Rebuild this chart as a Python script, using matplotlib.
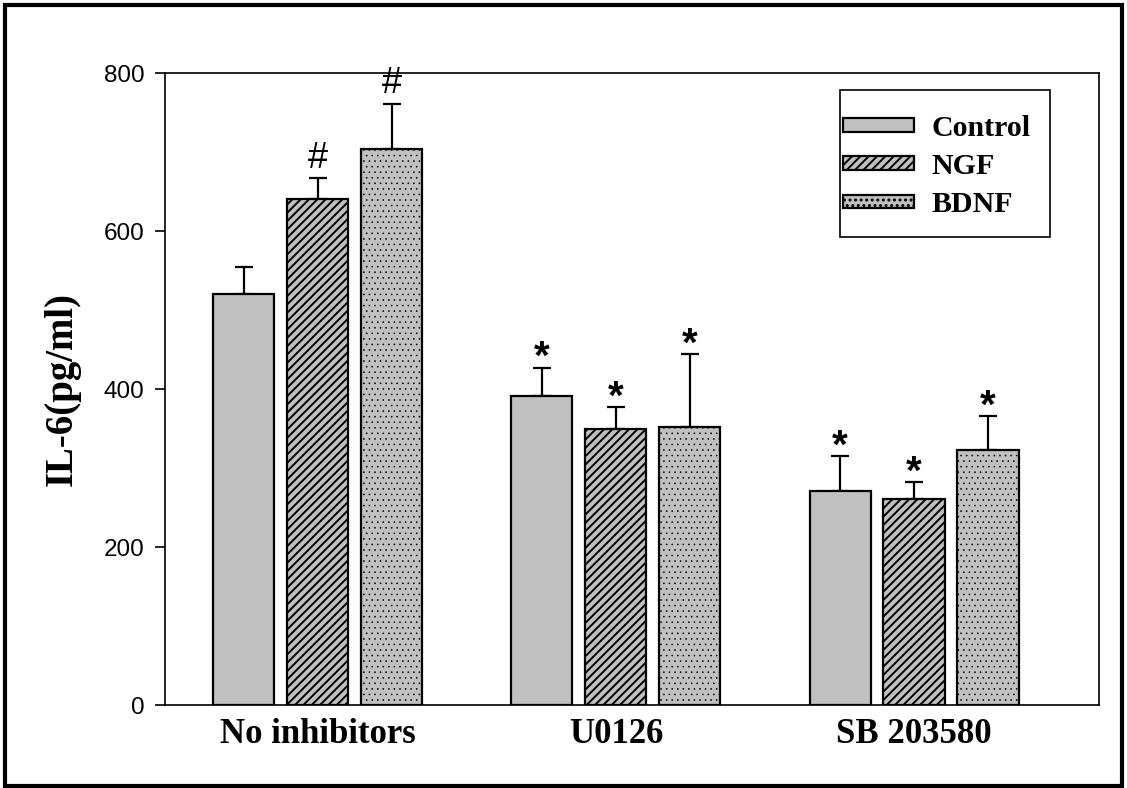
import matplotlib.pyplot as plt
import numpy as np
from matplotlib.patches import Rectangle

groups = ['No inhibitors', 'U0126', 'SB 203580']
series = ['Control', 'NGF', 'BDNF']
control = [520, 391, 271]
ngf = [640, 349, 261]
bdnf = [704, 352, 323]
control_err = [34, 36, 44]
ngf_err = [27, 28, 21]
bdnf_err = [57, 92, 43]
marks = [['', '#', '#'], ['*', '*', '*'], ['*', '*', '*']]

plt.rcParams['hatch.linewidth'] = 1.4

fig = plt.figure(figsize=(11.27, 7.88), dpi=100)
ax = fig.add_axes([0.1464, 0.1053, 0.8287, 0.802])

x = np.arange(len(groups))
width = 0.205
step = 0.248
hatches = ['', '////', '...']
values = [control, ngf, bdnf]
errors = [control_err, ngf_err, bdnf_err]

for i in range(3):
    pos = x + (i - 1) * step
    bars = ax.bar(pos, values[i], width, color='#c0c0c0', edgecolor='black',
                  linewidth=1.6, hatch=hatches[i], label=series[i], zorder=2)
    if i == 2:
        # lighter, thinner dots for BDNF
        for b in bars:
            if hasattr(b, 'set_hatch_linewidth'):
                b.set_hatch_linewidth(0.4)
            if hasattr(b, 'set_hatchcolor'):
                b.set_hatchcolor('#404040')
    ax.errorbar(pos, values[i], yerr=[np.zeros(3), errors[i]], fmt='none',
                ecolor='black', elinewidth=1.6, capsize=6.8, capthick=1.6, zorder=1)
    for j in range(3):
        m = marks[j][i]
        if m == '#':
            ax.text(pos[j], values[i][j] + errors[i][j] + 3, m, ha='center', va='bottom',
                    fontsize=26, family='Liberation Sans')
        elif m == '*':
            ax.text(pos[j], values[i][j] + errors[i][j] - 12, m, ha='center', va='bottom',
                    fontsize=29, fontweight='bold', family='Liberation Sans')

ax.set_xlim(-0.512, 2.62)
ax.set_ylim(0, 800)
ax.set_yticks([0, 200, 400, 600, 800])
ax.tick_params(axis='y', direction='out', length=7, width=1.2, pad=8, labelsize=17.5)
ax.tick_params(axis='x', length=0, pad=9)
ax.set_xticks(x)
ax.set_xticklabels(groups, fontsize=25, fontweight='bold', family='Liberation Serif')
for lab in ax.get_yticklabels():
    lab.set_family('Liberation Sans')
ax.set_ylabel('IL-6(pg/ml)', fontsize=28, fontweight='bold', family='Liberation Serif', labelpad=16)
for s in ax.spines.values():
    s.set_linewidth(1.2)

leg = ax.legend(loc='upper left', bbox_to_anchor=(0.7259, 0.9336), borderaxespad=0, borderpad=0,
                prop={'family': 'Liberation Serif', 'weight': 'bold', 'size': 21.5},
                handlelength=2.37, handleheight=0.33, labelspacing=0.37, handletextpad=0.6,
                frameon=False)
ax.add_patch(Rectangle((0.7227, 0.7405), 0.2248, 0.2326, transform=ax.transAxes,
                       fill=False, edgecolor='black', linewidth=1.2, zorder=5))

fig.patches.append(Rectangle((0.004, 0.003), 0.992, 0.991, transform=fig.transFigure,
                             fill=False, edgecolor='black', linewidth=3))

fig.savefig('out.png', dpi=100)
